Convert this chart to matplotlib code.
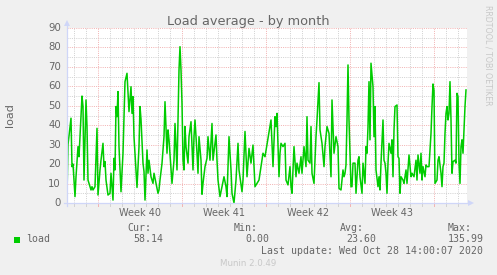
import matplotlib
matplotlib.use("Agg")
import matplotlib.pyplot as plt
import matplotlib.transforms as mtransforms
from matplotlib.patches import Polygon, Rectangle
from matplotlib.lines import Line2D

# hours since Monday Sep 28 2020 00:00 (start of week 40), 2h resolution
hours = [-62, -60, -54, -52, -50, -46, -44, -40, -38, -32, -30, -28, -24, -22,
         -20, -16, -14, -12, -10, -6, -2, 0, 4, 6, 10, 12, 14, 16, 20, 24, 26,
         30, 32, 34, 36, 38, 40, 42, 46, 50, 54, 58, 62, 66, 68, 70,
         72, 74, 78, 82, 84, 86, 90, 92, 94, 98, 100, 102, 106, 110, 112, 116,
         120, 122, 124, 128, 132, 134, 138, 140, 142, 146, 148, 152, 154, 158,
         162, 164, 166, 168, 170, 172, 174, 176, 180, 182, 186, 190, 192, 194,
         198, 200, 202, 206,
         208, 210, 214, 218, 220, 224, 228, 230, 236, 238, 240, 244, 248, 252,
         256, 258, 262, 266, 268, 272, 276, 280, 282, 288, 290, 294, 298, 302,
         306, 310, 314, 318, 322, 326, 330, 334, 340,
         344, 346, 350, 354, 356, 358, 362, 364, 366, 370, 374, 376, 380, 384,
         386, 388, 392, 396, 398, 402, 406, 408, 412, 416, 418, 420, 424, 426,
         428, 432, 436, 438, 442, 444, 448, 452, 454, 458, 462, 466, 468, 472,
         476,
         480, 482, 486, 490, 492, 494, 496, 498, 500, 502, 506, 508, 510, 514,
         516, 520, 522, 524, 528, 530, 534, 536, 538, 540, 542, 544, 546, 550,
         552, 554, 556, 560, 562, 564, 566, 570, 572, 574, 576, 578, 580, 582,
         586, 588, 590, 592, 594, 598, 600, 602, 604, 606, 610, 612,
         616, 618, 622, 626, 628, 632, 636, 638, 640, 644, 646, 648, 650, 654,
         656, 658, 662, 666, 668, 670, 672, 674, 678, 680, 682, 686, 688, 690,
         692, 694, 696, 698, 700, 702, 704, 706, 708, 710, 714, 716, 718, 720,
         722, 724, 726, 728, 730, 734, 736]
load = [4, 30, 43.6, 18.7, 20, 3.3, 13.5, 29, 23.8, 55, 49.6, 11.8, 53, 39.3,
        11.8, 8.4, 6.7, 8.4, 6.7, 8.4, 38.4, 4.1, 17, 22, 30.7, 18.7, 21.3, 11.8,
        4.1, 5, 15.3, 1.5, 23, 17, 49.6, 44.4, 57.3, 29, 5.8, 25.6, 62.4, 66.7,
        47, 59.8, 46.1, 54.7,
        34, 25.6, 8, 29, 49.6, 43, 20.5, 16.2, 1.5, 27.3, 15.3, 22, 13.5, 10.1,
        15.3, 10.1, 5, 6.7, 11.8, 20.4, 34.1, 52.1, 25.6, 37.6, 32.5, 17, 10.1,
        22, 40.9, 17, 68.4, 80.4, 68.4, 51.3, 22, 17, 39.3, 29, 20.5, 34.1, 41.8,
        17, 34.1, 42.7, 25.6, 15.3, 34.1, 22,
        4.5, 10.1, 18.7, 23, 34.1, 22, 40.9, 22, 35, 22, 11.8, 3.3, 8.4, 13.5,
        8.4, 3.3, 34.1, 17, 5, 0, 11.8, 30.7, 17, 5.8, 11.8, 36.8, 13.5, 28.1,
        20.5, 29.8, 8.4, 10.1, 11.8, 18.7, 25.6, 23.8, 33.2,
        39.3, 42.7, 18.7, 44.4, 39.3, 46.1, 13.5, 25.6, 30.7, 29, 30.7, 11.8,
        9.3, 18.7, 8.4, 5, 29, 13.5, 20.5, 15.3, 23.8, 15.3, 29, 18.7, 44.4, 22,
        20.5, 39.3, 15.3, 10.1, 34.1, 42.7, 61.9, 37.6, 30.7, 18.7, 29, 39.3,
        35.8, 13.5, 53, 25.6, 34.1,
        29, 7.5, 6.7, 17, 13.5, 15.3, 19.6, 42.7, 71, 42.7, 8.4, 8.4, 20.5, 20.5,
        5, 22, 23.8, 13.5, 5, 20.5, 10.1, 29, 25.6, 39.3, 62.4, 32.5, 71.9, 59.8,
        34.1, 49.6, 17, 8.4, 13.5, 6.7, 20.5, 42.7, 22, 20.5, 15.3, 5, 20.5,
        30.7, 25.6, 32.5, 13.5, 37.6, 49.6, 50.4, 23.8, 23, 5, 13.5, 11.8, 10.1,
        17, 10.1, 24.7, 13.5, 15.3, 13.5, 22, 11.8, 24.7, 15.3, 25.6, 11.8, 18.7,
        13.5, 19.6, 18.7, 18.7, 35.8, 49.6, 61.2, 57.8, 10.1, 11.8, 22, 23.8,
        15.3, 8.4, 18.7, 20.5, 35.8, 46.1, 49.6, 42.7, 46.1, 62.4, 42.7, 15.3,
        21.3, 22, 20.5, 56.4, 54.7, 20.5, 10.1, 29, 32.5, 25.6, 49.6, 58.14]

week_starts = [0, 168, 336, 504, 672]
week_labels = ["Week 40", "Week 41", "Week 42", "Week 43"]
y_ticks = [0, 10, 20, 30, 40, 50, 60, 70, 80, 90]

stats_names = ["Cur:", "Min:", "Avg:", "Max:"]
stats_values = ["58.14", "0.00", "23.60", "135.99"]

W, H = 497, 275
BG = "#f0f0f0"
FONT = "#666666"
AXIS = "#cfd6f8"
MGRID = "#f2b4b4"
GRID = "#d2d2d2"
GREEN = "#00cc00"

fig = plt.figure(figsize=(W / 100, H / 100), dpi=100, facecolor=BG)
# pixel coordinates, origin top-left
px = mtransforms.Affine2D().scale(1 / W, -1 / H).translate(0, 1) + fig.transFigure

x0, x1, ytop, ybot = 67, 467, 28, 203
ax = fig.add_axes([x0 / W, 1 - ybot / H, (x1 - x0) / W, (ybot - ytop) / H])
ax.set_facecolor("white")
ax.set_xlim(-62, 738)
ax.set_ylim(0, 90)
for s in ax.spines.values():
    s.set_visible(False)
ax.set_xticks([])
ax.set_yticks([])

dots = (0, (1, 1.2))
grid_kw = dict(lw=0.72, ls=dots, zorder=1)
for h in range(-48, 738, 24):
    if h not in week_starts:
        ax.axvline(h, color=GRID, **grid_kw)
for v in range(5, 90, 10):
    ax.axhline(v, color=GRID, **grid_kw)
for h in week_starts:
    ax.axvline(h, color=MGRID, **grid_kw)
for v in y_ticks[1:]:
    ax.axhline(v, color=MGRID, **grid_kw)

ax.plot(hours, load, color=GREEN, lw=1.1, zorder=3, solid_joinstyle="round")

# y labels
for v in y_ticks:
    y = ybot - v * (ybot - ytop) / 90
    fig.text(61, y, str(v), transform=px, ha="right", va="center",
             fontsize=7.3, color=FONT)

# week labels centred between week starts
for i, lab in enumerate(week_labels):
    xc = x0 + (week_starts[i] + 84 + 62) / 800 * 400
    fig.text(xc, 215.5, lab, transform=px, ha="center", va="baseline",
             fontsize=7, color=FONT)

# ticks under the axis
for h in range(-48, 738, 24):
    xp = x0 + (h + 62) / 2
    col = MGRID if h in week_starts else GRID
    fig.add_artist(Line2D([xp, xp], [203, 206], transform=px, color=col,
                          lw=0.72))

# axes with arrows
fig.add_artist(Line2D([x0, x0], [206, 24], transform=px, color=AXIS, lw=0.9))
fig.add_artist(Line2D([64, 470], [203, 203], transform=px, color=AXIS, lw=0.9))
fig.add_artist(Polygon([[64, 26], [70, 26], [67, 20]], closed=True,
                       transform=px, color=AXIS, lw=0))
fig.add_artist(Polygon([[468, 200], [468, 206], [474, 203]], closed=True,
                       transform=px, color=AXIS, lw=0))

fig.text(248.5, 24.5, "Load average - by month", transform=px, ha="center",
         va="baseline", fontsize=9.3, color=FONT)
fig.text(10, 115, "load", transform=px, ha="center", va="center",
         rotation=90, fontsize=8, color=FONT)
fig.text(488, 5, "RRDTOOL / TOBI OETIKER", transform=px, ha="center", va="top",
         rotation=270, fontsize=5.7, color="#c8c8c8")

mono = dict(family="DejaVu Sans Mono", fontsize=7.15, color=FONT)
fig.add_artist(Rectangle((14, 236.5), 6, 6, transform=px, facecolor=GREEN,
                         edgecolor="none"))
fig.text(26.5, 242.5, "load", transform=px, va="baseline", **mono)
name_x = [127.3, 233.3, 340, 447.3]
val_x = [133.3, 245.5, 346.7, 447.3]
for nx, vx, n, v in zip(name_x, val_x, stats_names, stats_values):
    fig.text(nx, 230.7, n, transform=px, va="baseline", **mono)
    fig.text(vx, 242.5, v, transform=px, va="baseline", **mono)
fig.text(482.7, 254, "Last update: Wed Oct 28 14:00:07 2020", transform=px,
         ha="right", va="baseline", **mono)
fig.text(248.5, 266.5, "Munin 2.0.49", transform=px, ha="center",
         va="baseline", fontsize=6.2, color="#c8c8c8")

fig.savefig("out.png", dpi=100, facecolor=BG)
